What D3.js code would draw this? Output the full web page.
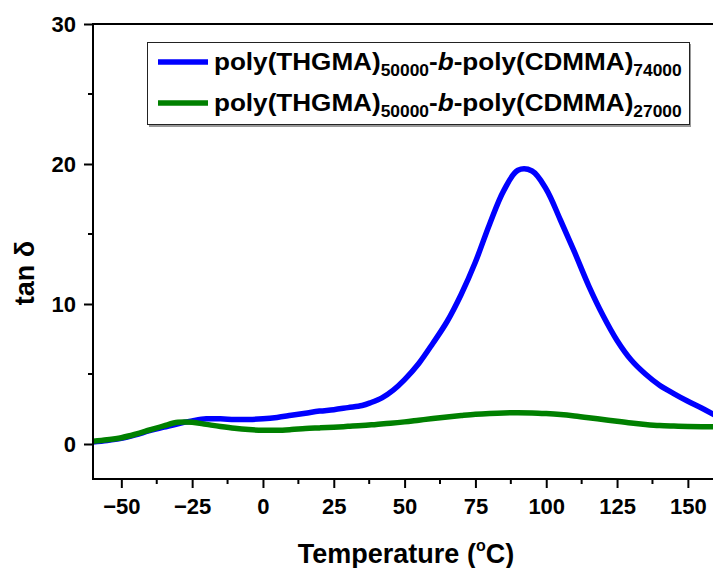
<!DOCTYPE html>
<html><head><meta charset="utf-8">
<script src="https://cdn.jsdelivr.net/npm/d3@7"></script>
<style>body{margin:0;background:#fff;} svg{display:block;font-family:"Liberation Sans",Arial,sans-serif;}</style>
</head><body>
<svg id="chart" width="713" height="568"></svg>
<script>
const blueT = [-60,-55,-50,-45,-40,-35,-30,-25,-20,-15,-10,-5,0,5,10,15,20,25,30,35,38,42,46,50,55,60,65,70,75,80,85,90,95,100,105,110,115,120,125,130,135,140,145,150,155,160];
const blueV = [0.15,0.25,0.4,0.65,0.95,1.2,1.45,1.65,1.8,1.8,1.75,1.75,1.8,1.9,2.05,2.2,2.35,2.45,2.6,2.75,2.95,3.3,3.85,4.6,5.75,7.2,8.75,10.7,13.0,15.7,18.1,19.55,19.5,18.2,16.0,13.7,11.3,9.2,7.4,6.0,5.0,4.2,3.6,3.05,2.55,2.0];
const greenT = [-60,-55,-50,-45,-40,-35,-30,-25,-20,-15,-10,-5,0,5,10,15,20,25,30,35,40,45,50,55,60,65,70,75,80,85,90,95,100,105,110,115,120,125,130,135,140,145,150,155,160];
const greenV = [0.2,0.3,0.45,0.7,1.0,1.3,1.55,1.55,1.4,1.25,1.12,1.03,0.98,0.98,1.03,1.1,1.15,1.2,1.26,1.32,1.4,1.48,1.58,1.7,1.82,1.93,2.03,2.12,2.18,2.22,2.23,2.22,2.17,2.1,2.0,1.88,1.75,1.62,1.5,1.4,1.32,1.28,1.25,1.24,1.24];
const xTicks = [-50,-25,0,25,50,75,100,125,150];
const yTicks = [0,10,20,30];
const seriesNames = ["74000","27000"];
const seriesColors = ["#0000ff","#008000"];

const svg = d3.select("#chart");
const x = d3.scaleLinear().domain([-60,160]).range([93,716.2]);
const y = d3.scaleLinear().domain([-2.5,30]).range([479,24]);

svg.append("defs").append("clipPath").attr("id","clip")
  .append("rect").attr("x",93).attr("y",24).attr("width",623).attr("height",455);

const line = d3.line().x(d=>x(d[0])).y(d=>y(d[1])).curve(d3.curveCatmullRom.alpha(0.5));
const series = [d3.zip(blueT,blueV), d3.zip(greenT,greenV)];
const g = svg.append("g").attr("clip-path","url(#clip)");
series.forEach((s,i)=>{
  g.append("path").datum(s).attr("d",line).attr("fill","none")
   .attr("stroke",seriesColors[i]).attr("stroke-width",5.5).attr("stroke-linejoin","round");
});

// axes
const xAxis = d3.axisBottom(x).tickValues(xTicks).tickSize(9).tickPadding(6).tickFormat(d3.format("d"));
const gx = svg.append("g").attr("transform","translate(0,479)").call(xAxis);
gx.select(".domain").remove();
gx.selectAll("line").attr("stroke","#000").attr("stroke-width",2);
gx.selectAll("text").attr("font-size",22).attr("font-weight","bold").attr("fill","#000").attr("y",35).attr("dy",0);
const xMinor = d3.range(-37.5,160,25);
svg.append("g").selectAll("line").data(xMinor).join("line")
  .attr("x1",d=>x(d)).attr("x2",d=>x(d)).attr("y1",479).attr("y2",484)
  .attr("stroke","#000").attr("stroke-width",2);

const yAxis = d3.axisLeft(y).tickValues(yTicks).tickSize(9).tickPadding(8);
const gy = svg.append("g").attr("transform","translate(93,0)").call(yAxis);
gy.select(".domain").remove();
gy.selectAll("line").attr("stroke","#000").attr("stroke-width",2);
gy.selectAll("text").attr("font-size",22).attr("font-weight","bold").attr("fill","#000");
const yMinor = [5,15,25];
svg.append("g").selectAll("line").data(yMinor).join("line")
  .attr("x1",88).attr("x2",93).attr("y1",d=>y(d)).attr("y2",d=>y(d))
  .attr("stroke","#000").attr("stroke-width",2);

// frame lines
svg.append("line").attr("x1",93).attr("x2",93).attr("y1",23).attr("y2",480).attr("stroke","#000").attr("stroke-width",2);
svg.append("line").attr("x1",92).attr("x2",713).attr("y1",479).attr("y2",479).attr("stroke","#000").attr("stroke-width",2);
svg.append("line").attr("x1",92).attr("x2",713).attr("y1",24).attr("y2",24).attr("stroke","#000").attr("stroke-width",2);

// axis titles
const xt = svg.append("text").attr("x",406).attr("y",563).attr("text-anchor","middle")
  .attr("font-size",27).attr("font-weight","bold");
xt.append("tspan").text("Temperature (");
xt.append("tspan").attr("font-size",16).attr("dy",-12).text("o");
xt.append("tspan").attr("dy",12).text("C)");
svg.append("text").attr("transform","translate(34,273) rotate(-90)").attr("text-anchor","middle")
  .attr("font-size",27).attr("font-weight","bold").text("tan δ");

// legend
svg.append("rect").attr("x",149).attr("y",44).attr("width",542).attr("height",83).attr("fill","#999");
svg.append("rect").attr("x",147.5).attr("y",42.5).attr("width",542).attr("height",82)
  .attr("fill","#fff").attr("stroke","#222").attr("stroke-width",1);
seriesNames.forEach((n,i)=>{
  const cy = 62 + i*41;
  svg.append("line").attr("x1",158).attr("x2",208).attr("y1",cy).attr("y2",cy)
    .attr("stroke",seriesColors[i]).attr("stroke-width",5.5);
  const t = svg.append("text").attr("x",0).attr("y",cy+8).attr("font-size",24).attr("font-weight","bold");
  t.append("tspan").text("poly(THGMA)");
  t.append("tspan").attr("font-size",16).attr("dy",6).text("50000");
  t.append("tspan").attr("dy",-6).text("-");
  t.append("tspan").attr("font-style","italic").text("b");
  t.append("tspan").text("-poly(CDMMA)");
  t.append("tspan").attr("font-size",16).attr("dy",6).text(n);
  const w = t.node().getBBox().width;
  t.attr("transform",`translate(214,0) scale(${468/w},1)`);
});
</script>
</body></html>
